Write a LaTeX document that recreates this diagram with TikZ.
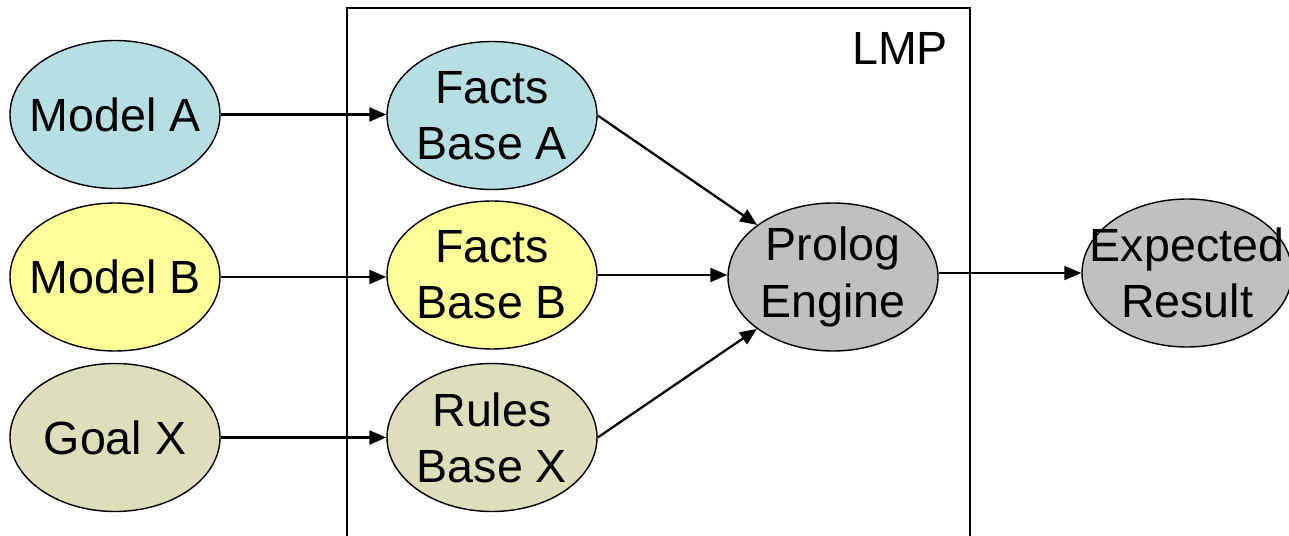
\documentclass[tikz,border=0pt]{standalone}
\usepackage{fontspec}
\setmainfont{Liberation Sans}
\usetikzlibrary{arrows.meta,shapes.geometric}
\definecolor{modelblue}{RGB}{183,223,227}
\definecolor{modelyellow}{RGB}{255,255,153}
\definecolor{goalolive}{RGB}{221,222,187}
\definecolor{enginegray}{RGB}{192,192,192}
\tikzset{
    blob/.style={ellipse, draw=black, line width=0.8pt, minimum width=4.2cm, minimum height=2.96cm,
        inner xsep=-1cm, inner ysep=-1mm, align=center, font=\fontsize{26.5}{32}\selectfont},
    flow/.style={-{Triangle[length=3.4mm,width=2.8mm]}, line width=1.3pt}
}
\begin{document}
\begin{tikzpicture}
    \useasboundingbox (0,0) rectangle (25.78,-10.72);
    \clip (0,0) rectangle (25.78,-10.72);

    % LMP frame
    \draw[line width=0.8pt] (6.94,-0.16) rectangle (19.40,-11);
    \node (lmp) at (18.0,-0.96) {\fontsize{26.5}{32}\selectfont LMP};

    % Inputs
    \node[blob, fill=modelblue] (ma) at (2.30,-2.29) {Model A};
    \node[blob, fill=modelyellow] (mb) at (2.30,-5.54) {Model B};
    \node[blob, fill=goalolive] (gx) at (2.30,-8.75) {Goal X};

    % Bases inside LMP
    \node[blob, fill=modelblue] (fa) at (9.84,-2.31) {Facts\\Base A};
    \node[blob, fill=modelyellow] (fb) at (9.84,-5.50) {Facts\\Base B};
    \node[blob, fill=goalolive] (rx) at (9.84,-8.75) {Rules\\Base X};

    % Engine and result
    \node[blob, fill=enginegray] (pe) at (16.66,-5.54) {Prolog\\Engine};
    \node[blob, fill=enginegray] (er) at (23.74,-5.46) {Expected\\Result};

    % Arrows
    \draw[flow] (ma) -- (ma -| fa.west);
    \draw[flow] (mb) -- (mb -| fb.west);
    \draw[flow] (gx) -- (gx -| rx.west);
    \draw[flow] (fa.east) -- (pe);
    \draw[flow] (fb) -- (fb -| pe.west);
    \draw[flow] (rx.east) -- (pe);
    \draw[flow] (pe.east |- er) -- (er);
\end{tikzpicture}
\end{document}
